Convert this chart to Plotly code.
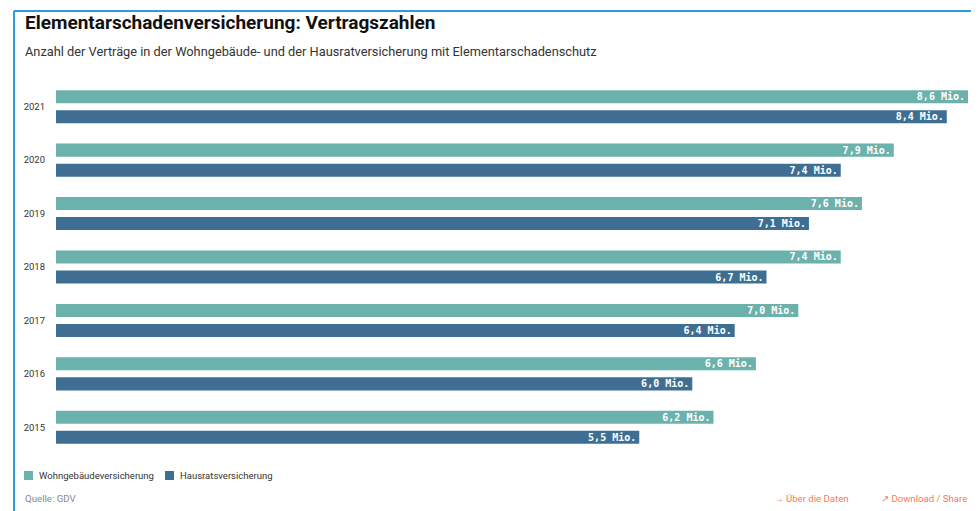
import plotly.graph_objects as go

# data
years = ["2021", "2020", "2019", "2018", "2017", "2016", "2015"]
wohngebaeude = [8.6, 7.9, 7.6, 7.4, 7.0, 6.6, 6.2]
hausrat = [8.4, 7.4, 7.1, 6.7, 6.4, 6.0, 5.5]
series_names = ["Wohngebäudeversicherung", "Hausratsversicherung"]
colors = ["rgb(108,178,172)", "rgb(62,111,147)"]

# the page puts the figure 8px in from the top-left corner
OFF = 8
W, H = 979 - OFF, 511 - OFF
L, R, T, B = 56 - OFF, 11, 80 - OFF, 57


def px_x(px):
    return (px - OFF - L) / (W - L - R)


def px_y(py):
    return (H - B - (py - OFF)) / (H - T - B)


def fmt(v):
    return f"{v:.1f}".replace(".", ",") + " Mio."


fig = go.Figure()
for name, vals, col in zip(series_names, [wohngebaeude, hausrat], colors):
    fig.add_trace(go.Bar(
        y=years,
        x=vals,
        orientation="h",
        name=name,
        marker=dict(color=col, line=dict(width=0)),
        text=[fmt(v) for v in vals],
        textposition="inside",
        insidetextanchor="end",
        textangle=0,
        textfont=dict(family="DejaVu Sans Mono", size=10, color="white", weight="bold"),
        hoverinfo="skip",
        showlegend=False,
    ))

fig.update_layout(
    width=W,
    height=H,
    margin=dict(l=L, r=R, t=T, b=B),
    barmode="group",
    bargap=0.25,
    bargroupgap=0.35,
    plot_bgcolor="white",
    paper_bgcolor="white",
    font=dict(family="Roboto", color="#222"),
    uniformtext=dict(minsize=10, mode="show"),
    xaxis=dict(range=[0, 8.6], visible=False, fixedrange=True),
    yaxis=dict(
        categoryorder="array",
        categoryarray=years,
        autorange="reversed",
        showgrid=False,
        showline=False,
        ticks="",
        ticklabelstandoff=10,
        tickfont=dict(size=9.5, color="#333"),
    ),
)

# title and subtitle
fig.add_annotation(
    text="<b>Elementarschadenversicherung: Vertragszahlen</b>",
    xref="paper", yref="paper", x=px_x(23), y=px_y(22),
    xanchor="left", yanchor="middle", showarrow=False,
    font=dict(size=19, color="#111"),
)
fig.add_annotation(
    text="Anzahl der Verträge in der Wohngebäude- und der Hausratversicherung mit Elementarschadenschutz",
    xref="paper", yref="paper", x=px_x(23), y=px_y(52),
    xanchor="left", yanchor="middle", showarrow=False,
    font=dict(size=12.8, color="#333"),
)

# legend, drawn by hand for the tight spacing
legend_x = [24, 165]
for lx, name, col in zip(legend_x, series_names, colors):
    fig.add_shape(type="rect", xref="paper", yref="paper",
                  x0=px_x(lx), x1=px_x(lx + 9), y0=px_y(471), y1=px_y(480),
                  fillcolor=col, line=dict(width=0))
    fig.add_annotation(
        text=name, xref="paper", yref="paper", x=px_x(lx + 13), y=px_y(475.5),
        xanchor="left", yanchor="middle", showarrow=False,
        font=dict(size=9.5, color="#333"),
    )

# footer
fig.add_annotation(
    text="Quelle: GDV",
    xref="paper", yref="paper", x=px_x(23), y=px_y(498),
    xanchor="left", yanchor="middle", showarrow=False,
    font=dict(size=9.7, color="#888"),
)
fig.add_annotation(
    text="→ Über die Daten",
    xref="paper", yref="paper", x=px_x(772), y=px_y(498),
    xanchor="left", yanchor="middle", showarrow=False,
    font=dict(size=9.6, color="#f07c5c"),
)
fig.add_annotation(
    text="↗ Download / Share",
    xref="paper", yref="paper", x=px_x(969), y=px_y(498),
    xanchor="right", yanchor="middle", showarrow=False,
    font=dict(size=9.6, color="#f07c5c"),
)

# blue frame lines at left and top
fig.add_shape(type="line", xref="paper", yref="paper",
              x0=px_x(14), x1=px_x(14), y0=px_y(11), y1=px_y(515),
              line=dict(color="rgb(47,155,220)", width=2))
fig.add_shape(type="line", xref="paper", yref="paper",
              x0=px_x(14), x1=px_x(985), y0=px_y(11), y1=px_y(11),
              line=dict(color="rgb(47,155,220)", width=2))

fig.write_html("out.html")
